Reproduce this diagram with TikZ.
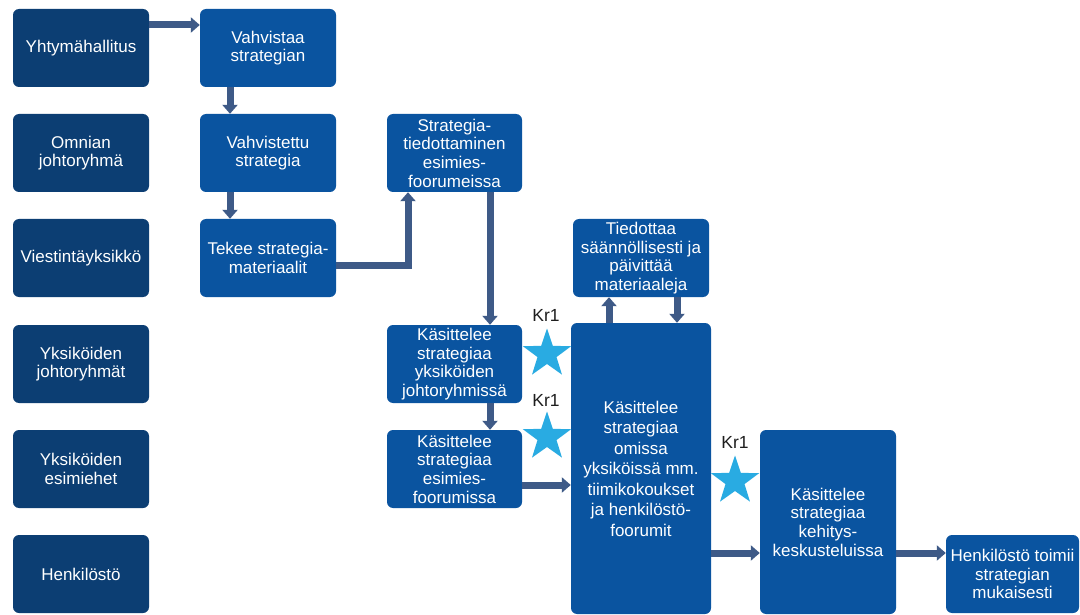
\documentclass[tikz,border=0pt]{standalone}
\usepackage{fontspec}
\setmainfont{Liberation Sans}
\usetikzlibrary{arrows.meta,shapes.geometric}

\definecolor{rolebox}{RGB}{12,62,115}
\definecolor{stepfill}{RGB}{10,84,160}
\definecolor{flowline}{RGB}{62,90,135}
\definecolor{starblue}{RGB}{41,171,226}
\definecolor{labeltext}{RGB}{30,30,30}

\tikzset{
  card/.style={rounded corners=6pt, inner sep=0pt, align=center, text=white,
    font=\fontsize{17}{18.7}\selectfont},
  role/.style={card, fill=rolebox},
  task/.style={card, fill=stepfill},
  flow/.style={draw=flowline, line width=7pt, line join=miter,
    -{Triangle[width=15pt,length=9pt]}},
  kstar/.style={star, star points=5, star point ratio=2.55, fill=starblue,
    draw=none, minimum size=51pt, inner sep=0pt},
  klabel/.style={text=labeltext, font=\fontsize{17.5}{19}\selectfont, inner sep=0pt}
}

\begin{document}
\begin{tikzpicture}[x=1pt, y=-1pt]
  \fill[white] (0,0) rectangle (1080,615);
  \useasboundingbox (0,0) rectangle (1080,615);

  % roles (left column)
  \node[role, minimum width=136pt, minimum height=78pt] (yht) at (81,48) {Yhtymähallitus};
  \node[role, minimum width=136pt, minimum height=78pt] (omn) at (81,153) {Omnian\\johtoryhmä};
  \node[role, minimum width=136pt, minimum height=78pt] (vie) at (81,258) {Viestintäyksikkö};
  \node[role, minimum width=136pt, minimum height=78pt] (ykj) at (81,364) {Yksiköiden\\johtoryhmät};
  \node[role, minimum width=136pt, minimum height=78pt] (yke) at (81,469) {Yksiköiden\\esimiehet};
  \node[role, minimum width=136pt, minimum height=78pt] (hen) at (81,574) {Henkilöstö};

  % process steps
  \node[task, minimum width=136pt, minimum height=78pt] (vahv) at (268,48) {Vahvistaa\\strategian};
  \node[task, minimum width=136pt, minimum height=78pt] (vstr) at (268,153) {Vahvistettu\\strategia};
  \node[task, minimum width=136pt, minimum height=78pt] (mat) at (268,258) {Tekee strategia-\\materiaalit};
  \node[task, minimum width=135pt, minimum height=78pt] (tied) at (454.5,153) {Strategia-\\tiedottaminen\\esimies-\\foorumeissa};
  \node[task, minimum width=135pt, minimum height=78pt] (kyj) at (454.5,364) {Käsittelee\\strategiaa\\yksiköiden\\johtoryhmissä};
  \node[task, minimum width=135pt, minimum height=78pt] (kef) at (454.5,469) {Käsittelee\\strategiaa\\esimies-\\foorumissa};
  \node[task, minimum width=136pt, minimum height=78pt] (paiv) at (641,258) {Tiedottaa\\säännöllisesti ja\\päivittää\\materiaaleja};
  \node[task, minimum width=140pt, minimum height=291pt,
        font=\fontsize{17}{20.5}\selectfont] (oma) at (641,468.5)
        {Käsittelee\\strategiaa\\omissa\\yksiköissä mm.\\tiimikokoukset\\ja henkilöstö-\\foorumit};
  \node[task, minimum width=136pt, minimum height=184pt] (keh) at (828,522) {Käsittelee\\strategiaa\\kehitys-\\keskusteluissa};
  \node[task, minimum width=133pt, minimum height=78pt] (toimii) at (1012.5,574) {Henkilöstö toimii\\strategian\\mukaisesti};

  % connectors
  \draw[flow] (yht.east |- 0,25) -- (vahv.west |- 0,25);
  \draw[flow] (vahv.south -| 230,0) -- (vstr.north -| 230,0);
  \draw[flow] (vstr.south -| 230,0) -- (mat.north -| 230,0);
  \draw[flow] (mat.east |- 0,265) -| (tied.south -| 408,0);
  \draw[flow] (tied.south -| 490,0) -- (kyj.north -| 490,0);
  \draw[flow] (kyj.south -| 490,0) -- (kef.north -| 490,0);
  \draw[flow] (kef.east |- 0,485) -- (oma.west |- 0,485);
  \draw[flow] (oma.north -| 609,0) -- (paiv.south -| 609,0);
  \draw[flow] (paiv.south -| 677,0) -- (oma.north -| 677,0);
  \draw[flow] (oma.east |- 0,553) -- (keh.west |- 0,553);
  \draw[flow] (keh.east |- 0,553) -- (toimii.west |- 0,553);

  % Kr1 markers
  \node[kstar] (s1) at (547,354) {};
  \node[kstar] (s2) at (547,437) {};
  \node[kstar] (s3) at (735,481) {};
  \node[klabel] (k1) at (546,315) {Kr1};
  \node[klabel] (k2) at (546,400) {Kr1};
  \node[klabel] (k3) at (735,442) {Kr1};
\end{tikzpicture}
\end{document}
